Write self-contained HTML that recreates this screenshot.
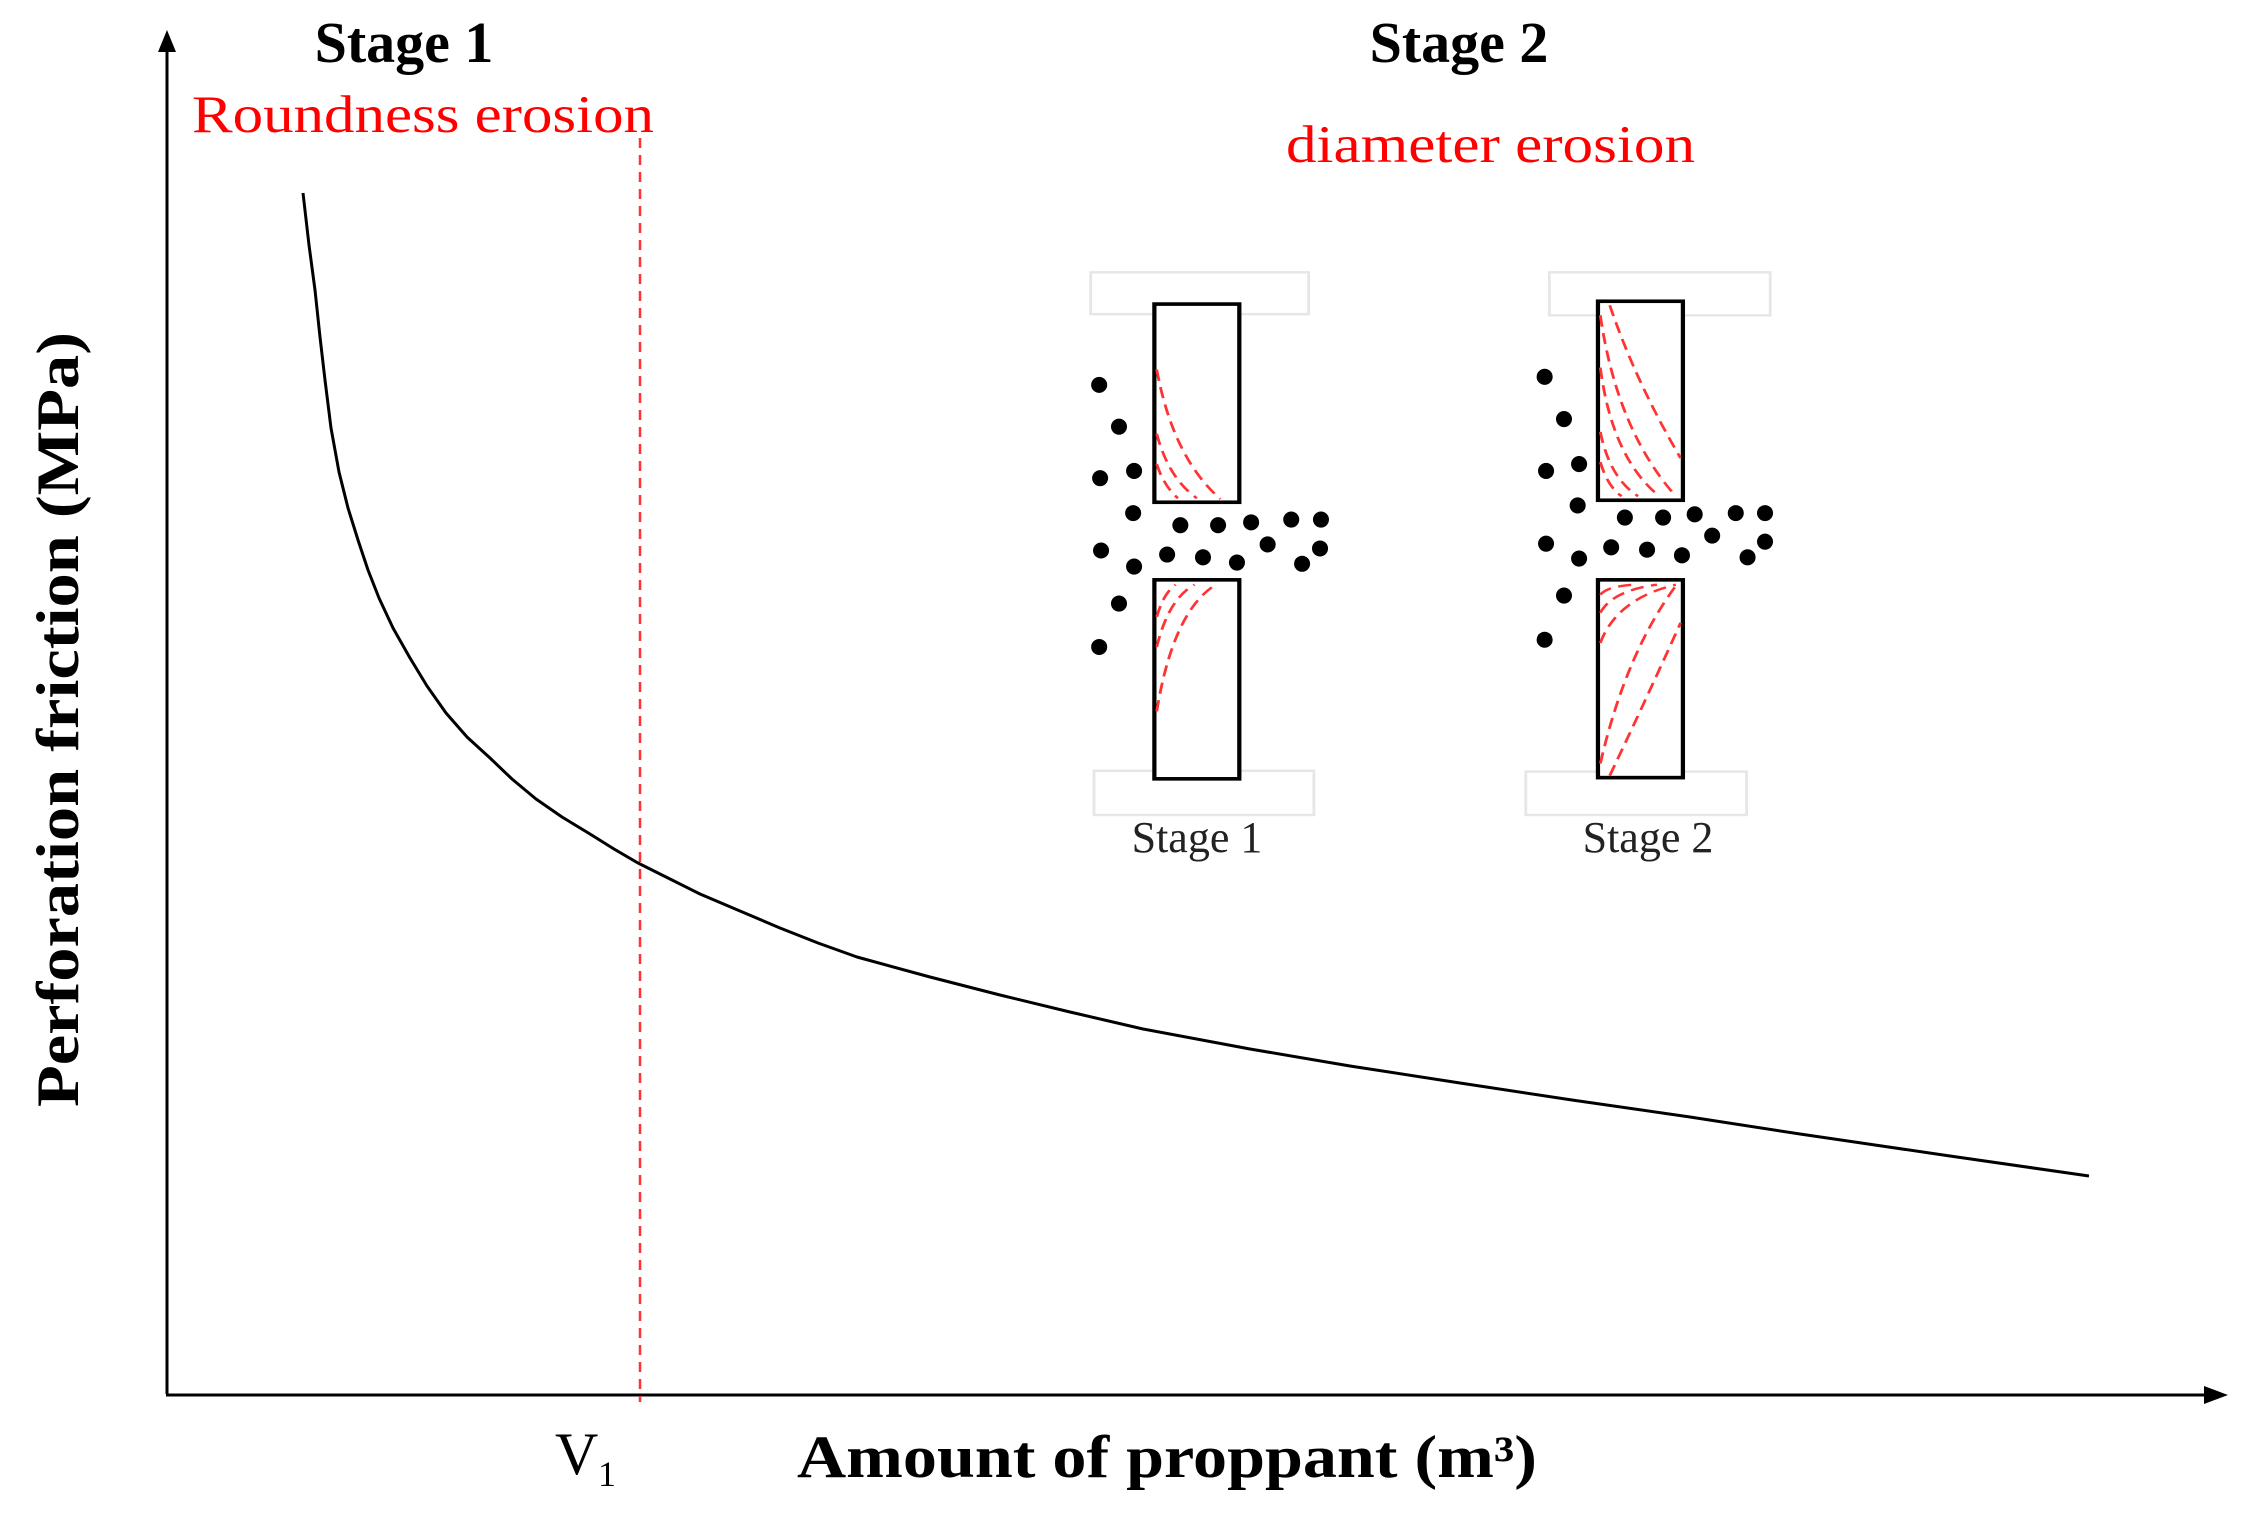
<!DOCTYPE html>
<html><head><meta charset="utf-8"><style>
html,body{margin:0;padding:0;background:#fff;}
svg{display:block;}
</style></head><body>
<svg width="2241" height="1514" viewBox="0 0 2241 1514" xmlns="http://www.w3.org/2000/svg" font-family="'Liberation Serif', serif">
<!-- axes -->
<line x1="167" y1="1394" x2="167" y2="50" stroke="#000" stroke-width="3"/>
<polygon points="167,30 158,52 176,52" fill="#000"/>
<line x1="166" y1="1395" x2="2205" y2="1395" stroke="#000" stroke-width="3"/>
<polygon points="2228,1395 2204,1386 2204,1404" fill="#000"/>
<!-- dashed V1 -->
<line x1="640" y1="138" x2="640" y2="1402" stroke="#f33" stroke-width="2.5" stroke-dasharray="10,7"/>
<!-- curve -->
<path d="M303,193 L309,245 L315,290 L320,337 L325,380 L331,428 L339,472 L348,508 L358,540 L368,570 L379,598 L393,628 L410,658 L427,686 L446,713 L467,737 L490,758 L512,779 L536,799 L562,817 L590,834 L614,849 L638,863 L668,878 L700,894 L740,911 L780,928 L818,943 L857,957 L930,977 L1000,995 L1070,1012 L1143,1029 L1250,1049 L1350,1066 L1460,1083 L1572,1100 L1690,1117 L1800,1134 L1950,1156 L2089,1176" fill="none" stroke="#000" stroke-width="3" stroke-linejoin="round"/>
<!-- labels -->
<text x="404" y="62" font-size="58" font-weight="bold" text-anchor="middle">Stage 1</text>
<text x="192" y="132" font-size="53" fill="#f00" textLength="462" lengthAdjust="spacingAndGlyphs">Roundness erosion</text>
<text x="1459" y="62" font-size="58" font-weight="bold" text-anchor="middle">Stage 2</text>
<text x="1286" y="162" font-size="53" fill="#f00" textLength="409" lengthAdjust="spacingAndGlyphs">diameter erosion</text>
<text transform="translate(78,1107) rotate(-90)" font-size="60" font-weight="bold" textLength="775" lengthAdjust="spacingAndGlyphs">Perforation friction (MPa)</text>
<text x="797" y="1477" font-size="60" font-weight="bold" textLength="740" lengthAdjust="spacingAndGlyphs">Amount of proppant (m³)</text>
<text x="555" y="1474" font-size="60">V</text>
<text x="598" y="1486" font-size="36">1</text>
<!-- inset -->
<g transform="translate(1060,249) scale(0.4719,0.402)">
  <g fill="none" stroke="#e6e6e6" stroke-width="6">
    <rect x="65" y="58" width="462" height="104"/>
    <rect x="72" y="1298" width="466" height="110"/>
    <rect x="1037" y="58" width="468" height="107"/>
    <rect x="987" y="1300" width="468" height="108"/>
  </g>
  <g fill="#fff" stroke="#000" stroke-width="9">
    <rect x="200" y="137" width="180" height="493"/>
    <rect x="200" y="823" width="180" height="495"/>
    <rect x="1140" y="130" width="180" height="495"/>
    <rect x="1140" y="823" width="180" height="492"/>
  </g>
  <g fill="none" stroke="#f33" stroke-width="6" stroke-dasharray="28,16">
    <path d="M205,300 Q240,520 340,622"/>
    <path d="M205,460 Q230,570 290,620"/>
    <path d="M205,535 Q220,590 250,620"/>
    <path d="M205,1150 Q240,900 330,835"/>
    <path d="M205,990 Q230,870 285,835"/>
    <path d="M205,915 Q220,855 245,835"/>
    <path d="M1165,140 Q1220,330 1315,520"/>
    <path d="M1145,165 Q1180,450 1305,615"/>
    <path d="M1145,295 Q1170,520 1270,615"/>
    <path d="M1145,455 Q1165,570 1225,615"/>
    <path d="M1145,530 Q1160,590 1190,615"/>
    <path d="M1145,1280 Q1200,1000 1310,830"/>
    <path d="M1165,1310 Q1250,1100 1315,930"/>
    <path d="M1145,980 Q1180,870 1305,835"/>
    <path d="M1145,905 Q1170,850 1265,835"/>
    <path d="M1145,860 Q1160,838 1220,835"/>
  </g>
  <g fill="#000">
    <ellipse cx="83" cy="338" rx="17" ry="20"/><ellipse cx="125" cy="442" rx="17" ry="20"/><ellipse cx="85" cy="570" rx="17" ry="20"/><ellipse cx="157" cy="552" rx="17" ry="20"/><ellipse cx="155" cy="657" rx="17" ry="20"/><ellipse cx="255" cy="687" rx="17" ry="20"/><ellipse cx="335" cy="687" rx="17" ry="20"/><ellipse cx="405" cy="680" rx="17" ry="20"/><ellipse cx="490" cy="673" rx="17" ry="20"/><ellipse cx="553" cy="673" rx="17" ry="20"/><ellipse cx="87" cy="750" rx="17" ry="20"/><ellipse cx="157" cy="790" rx="17" ry="20"/><ellipse cx="227" cy="760" rx="17" ry="20"/><ellipse cx="303" cy="767" rx="17" ry="20"/><ellipse cx="375" cy="780" rx="17" ry="20"/><ellipse cx="440" cy="735" rx="17" ry="20"/><ellipse cx="513" cy="783" rx="17" ry="20"/><ellipse cx="551" cy="745" rx="17" ry="20"/><ellipse cx="125" cy="882" rx="17" ry="20"/><ellipse cx="83" cy="990" rx="17" ry="20"/>
    <ellipse cx="1027" cy="318" rx="17" ry="20"/><ellipse cx="1068" cy="423" rx="17" ry="20"/><ellipse cx="1030" cy="552" rx="17" ry="20"/><ellipse cx="1100" cy="535" rx="17" ry="20"/><ellipse cx="1097" cy="638" rx="17" ry="20"/><ellipse cx="1197" cy="668" rx="17" ry="20"/><ellipse cx="1278" cy="668" rx="17" ry="20"/><ellipse cx="1345" cy="660" rx="17" ry="20"/><ellipse cx="1432" cy="657" rx="17" ry="20"/><ellipse cx="1494" cy="657" rx="17" ry="20"/><ellipse cx="1030" cy="733" rx="17" ry="20"/><ellipse cx="1100" cy="770" rx="17" ry="20"/><ellipse cx="1168" cy="742" rx="17" ry="20"/><ellipse cx="1244" cy="748" rx="17" ry="20"/><ellipse cx="1318" cy="762" rx="17" ry="20"/><ellipse cx="1382" cy="713" rx="17" ry="20"/><ellipse cx="1457" cy="767" rx="17" ry="20"/><ellipse cx="1494" cy="728" rx="17" ry="20"/><ellipse cx="1068" cy="862" rx="17" ry="20"/><ellipse cx="1027" cy="972" rx="17" ry="20"/>
  </g>
</g>
<text x="1197" y="852" font-size="44" text-anchor="middle" fill="#222">Stage 1</text>
<text x="1648" y="852" font-size="44" text-anchor="middle" fill="#222">Stage 2</text>
</svg>
</body></html>
